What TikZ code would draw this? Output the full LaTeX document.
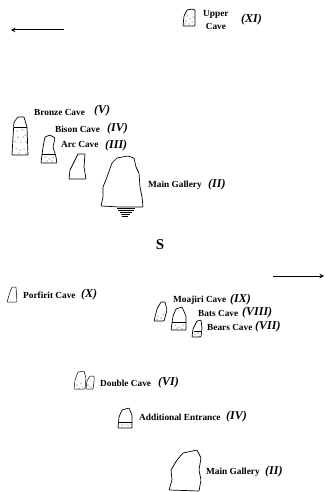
\documentclass[tikz,border=0pt]{standalone}
\usepackage{fontspec}
\setmainfont{Liberation Serif}
\tikzset{
  cave/.style={draw,line width=0.7pt,line join=round,rounded corners=0.6pt},
  cavename/.style={inner sep=0pt,anchor=west,font=\bfseries\fontsize{9.3}{10}\selectfont},
  cavenum/.style={inner sep=0pt,anchor=west,font=\bfseries\itshape\fontsize{12}{12}\selectfont}
}
\begin{document}
\begin{tikzpicture}[x=1pt,y=-1pt]
\useasboundingbox (0,0) rectangle (324,492);
% north and south arrows
\coordinate (wa) at (64,30);
\coordinate (wb) at (11,30);
\coordinate (ea) at (273,276);
\coordinate (eb) at (324,276);
\draw[line width=1pt,-stealth] (wa) -- (wb);
\draw[line width=1pt,-stealth] (ea) -- (eb);
% upper part
\draw[cave] (183,26) -- (184,16) -- (187,10) -- (192,9) -- (195,10) -- (195,26) -- cycle;
\fill \foreach \x/\y in {187/16,190/19,186/21,192/22,189/24,185/24,193/17} {(\x,\y) circle (0.5pt)};
\node[cavename,align=center] (upper) at (203,20) {Upper\\[3.5pt]Cave};
\node[cavenum] at (241,20) {(XI)};
\draw[cave] (12,155) -- (13,137) -- (14,122) -- (18,117) -- (24,117) -- (27,127) -- (28,155) -- cycle;
\draw[line width=0.5pt] (14,127) -- (27,127);
\fill \foreach \x/\y in {17/131,22/130,25/135,18/137,15/141,21/142,26/142,16/148,20/150,24/149,19/153,26/153,23/137} {(\x,\y) circle (0.5pt)};
\node[cavename] (bronze) at (34,112) {Bronze Cave};
\node[cavenum] at (94,111) {(V)};
\draw[cave] (41,163) -- (43,147) -- (45,137) -- (50,135) -- (55,138) -- (53,147) -- (56,157) -- (57,163) -- cycle;
\draw[line width=0.6pt] (42,154) -- (56,154);
\fill \foreach \x/\y in {45/157,49/159,53/157,47/161,52/161} {(\x,\y) circle (0.5pt)};
\node[cavename] (bison) at (55,129) {Bison Cave};
\node[cavenum] at (107,129) {(IV)};
\draw[cave] (69,179) -- (70,170) -- (75,160) -- (78,154) -- (85,154) -- (84,167) -- (86,179) -- cycle;
\node[cavename] (arc) at (61,144) {Arc Cave};
\node[cavenum] at (105,146) {(III)};
\draw[cave] (101,206) -- (103,197) -- (103,187) -- (107,177) -- (112,163) -- (117,158) -- (128,156) -- (134,158) -- (136,167) -- (139,173) -- (140,187) -- (142,197) -- (143,207) -- (120,207) -- cycle;
\draw[line width=0.5pt] (117,208) -- (135,208) (118,210) -- (134,210) (120,212) -- (132,212) (121,214) -- (130,214) (122,216) -- (128,216);
\node[cavename] (mainone) at (148,185) {Main Gallery};
\node[cavenum] at (208,185) {(II)};
\node[font=\bfseries\fontsize{15}{16}\selectfont,inner sep=0pt] (south) at (160,245) {S};
% lower part
\draw[cave,line width=0.5pt] (7,302) -- (10,292) -- (12,287) -- (16,287) -- (17,302) -- cycle;
\node[cavename] (porfirit) at (23,295) {Porfirit Cave};
\node[cavenum] at (81,295) {(X)};
\draw[cave] (154,321) -- (157,309) -- (161,302) -- (165,302) -- (167,310) -- (164,321) -- cycle;
\fill \foreach \x/\y in {158/316,161/318,163/314,157/319} {(\x,\y) circle (0.5pt)};
\node[cavename] (moajiri) at (173,300) {Moajiri Cave};
\node[cavenum] at (230,300) {(IX)};
\draw[cave] (171,330) -- (173,316) -- (176,309) -- (182,307) -- (186,316) -- (186,330) -- cycle;
\draw[line width=0.5pt] (172,322) -- (186,322);
\fill \foreach \x/\y in {175/325,179/327,183/325,177/328,182/328} {(\x,\y) circle (0.5pt)};
\node[cavename] (bats) at (198,313) {Bats Cave};
\node[cavenum] at (242,313) {(VIII)};
\draw[cave] (192,337) -- (193,329) -- (197,321) -- (201,320) -- (202,328) -- (201,337) -- cycle;
\draw[line width=0.5pt] (194,331) -- (201,331);
\fill \foreach \x/\y in {195/334,198/333,199/336} {(\x,\y) circle (0.5pt)};
\node[cavename] (bears) at (207,327) {Bears Cave};
\node[cavenum] at (255,327) {(VII)};
\draw[cave,line width=0.5pt] (74,389) -- (75,380) -- (78,372) -- (84,371) -- (86,378) -- (85,389) -- cycle;
\draw[cave,line width=0.5pt] (86,389) -- (87,381) -- (90,376) -- (94,376) -- (94,382) -- (93,389) -- cycle;
\fill \foreach \x/\y in {77/385,81/383,83/387,79/388,88/385,91/387} {(\x,\y) circle (0.5pt)};
\node[cavename] (double) at (100,383) {Double Cave};
\node[cavenum] at (158,383) {(VI)};
\draw[cave] (118,428) -- (119,417) -- (122,410) -- (129,408) -- (132,415) -- (132,428) -- cycle;
\draw[line width=0.5pt] (119,422) -- (132,422);
\fill \foreach \x/\y in {122/425,125/424,128/425,131/424} {(\x,\y) circle (0.5pt)};
\node[cavename] (additional) at (139,417) {Additional Entrance};
\node[cavenum] at (226,417) {(IV)};
\draw[cave] (169,490) -- (172,480) -- (171,470) -- (177,460) -- (183,453) -- (197,450) -- (201,458) -- (199,470) -- (201,480) -- (199,491) -- cycle;
\node[cavename] (maintwo) at (206,472) {Main Gallery};
\node[cavenum] at (265,472) {(II)};
\end{tikzpicture}
\end{document}
